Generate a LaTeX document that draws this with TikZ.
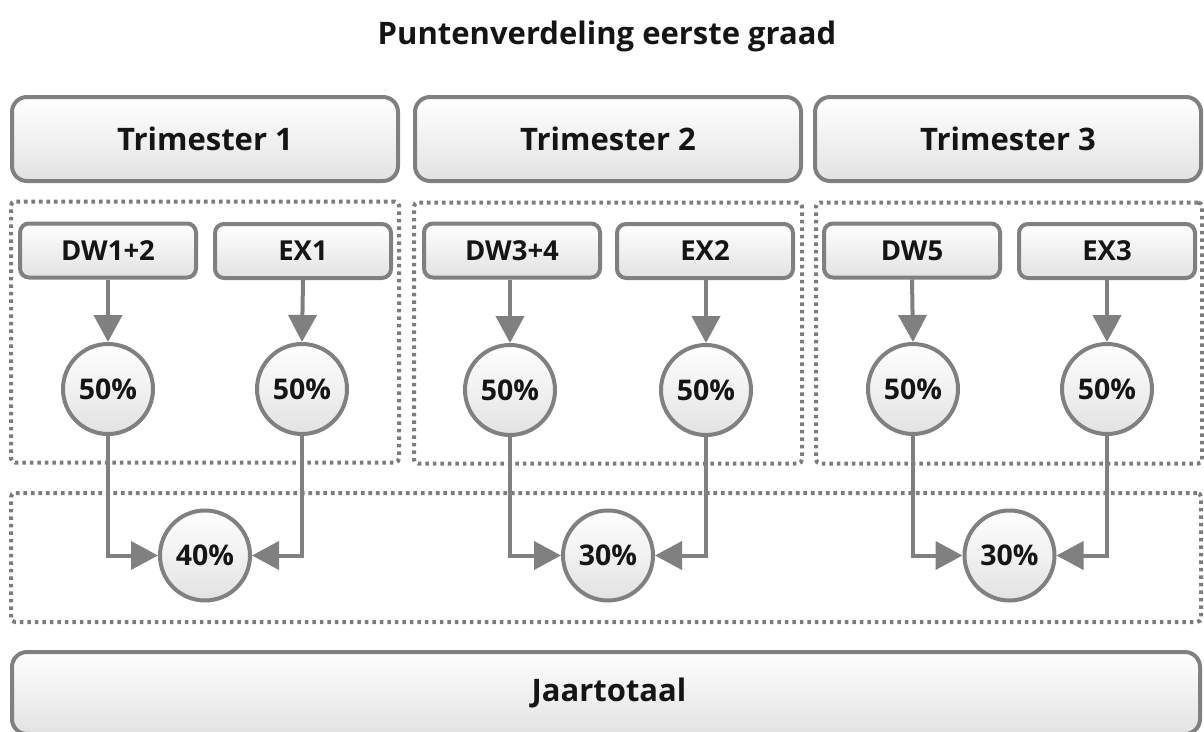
\documentclass[tikz,border=0pt]{standalone}
\usepackage{fontspec}
\setmainfont{Open Sans}
\usetikzlibrary{arrows.meta}
\definecolor{edge}{HTML}{808080}
\definecolor{dots}{HTML}{7C7C7C}
\definecolor{ink}{HTML}{151515}
\definecolor{shadelo}{HTML}{E2E2E2}

\begin{document}
\begin{tikzpicture}[x=1pt,y=-1pt,
  headbox/.style={draw=edge, line width=4pt, rounded corners=15pt,
    top color=white, bottom color=shadelo,
    minimum width=386pt, minimum height=84pt, inner sep=0pt,
    font=\fontsize{31}{36}\selectfont\bfseries, text=ink},
  itembox/.style={draw=edge, line width=4pt, rounded corners=9pt,
    top color=white, bottom color=shadelo,
    minimum width=176pt, minimum height=54pt, inner sep=0pt,
    font=\fontsize{27.5}{30}\selectfont\bfseries, text=ink},
  pct/.style={circle, draw=edge, line width=4pt,
    top color=white, bottom color=shadelo,
    minimum size=90pt, inner sep=0pt,
    font=\fontsize{28.5}{30}\selectfont\bfseries, text=ink},
  group/.style={draw=dots, line width=4pt, dash pattern=on 3.6pt off 3.9pt,
    rounded corners=4pt, inner sep=0pt},
  flow/.style={draw=edge, line width=4pt, -{Triangle[length=27pt,width=28pt]}},
  titletext/.style={font=\fontsize{31}{36}\selectfont\bfseries, text=ink}
]
\useasboundingbox (0,0) rectangle (1204,731);
\clip (0,0) rectangle (1204,731);

% title
\node[titletext, anchor=base] (title) at (607,44) {Puntenverdeling eerste graad};

% dotted groups
\node[group, minimum width=388pt, minimum height=261pt] (g1) at (205,332) {};
\node[group, minimum width=388pt, minimum height=261pt] (g2) at (608,333) {};
\node[group, minimum width=386pt, minimum height=261pt] (g3) at (1009,333) {};
\node[group, minimum width=1190pt, minimum height=129pt] (gy) at (606,557.5) {};

% trimester headers
\node[headbox] (t1) at (205,139) {Trimester 1};
\node[headbox] (t2) at (608,139) {Trimester 2};
\node[headbox] (t3) at (1008,139) {Trimester 3};

% year total
\node[headbox, minimum width=1188pt, minimum height=82pt] (year) at (606,693) {\hspace*{6pt}Jaartotaal};

% tests
\node[itembox] (dw1) at (108,250.5) {DW1+2};
\node[itembox] (ex1) at (303,251) {EX1};
\node[itembox] (dw2) at (512,250.5) {DW3+4};
\node[itembox] (ex2) at (705,251) {EX2};
\node[itembox] (dw3) at (912,250.5) {DW5};
\node[itembox] (ex3) at (1107,251) {EX3};

% weights within a trimester
\node[pct] (p1) at (108,389) {50\%};
\node[pct] (q1) at (302,389) {50\%};
\node[pct] (p2) at (510,390) {50\%};
\node[pct] (q2) at (706,390) {50\%};
\node[pct] (p3) at (913,389) {50\%};
\node[pct] (q3) at (1107,389) {50\%};

% weights of the trimesters
\node[pct] (y1) at (205,555.5) {40\%};
\node[pct] (y2) at (608,555.5) {30\%};
\node[pct] (y3) at (1009.5,555.5) {30\%};

% connectors
\foreach \a/\b in {dw1/p1, ex1/q1, dw3/p3, ex3/q3}
  \draw[flow] (\a.south) -- (\b.north);
\draw[flow] (dw2.south -| p2.north) -- (p2.north);
\draw[flow] (ex2.south -| q2.north) -- (q2.north);

\draw[flow] (p1.south) |- (y1.west);
\draw[flow] (q1.south) |- (y1.east);
\draw[flow] (p2.south) |- (y2.west);
\draw[flow] (q2.south) |- (y2.east);
\draw[flow] (p3.south) |- (y3.west);
\draw[flow] (q3.south) |- (y3.east);
\end{tikzpicture}
\end{document}
